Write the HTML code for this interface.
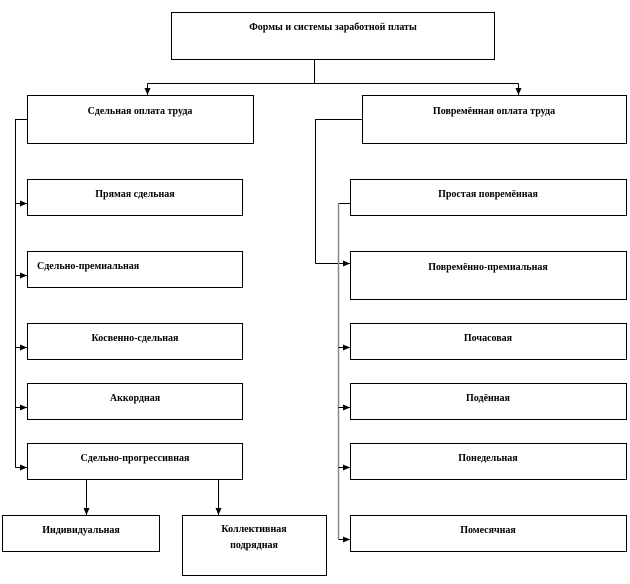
<!DOCTYPE html>
<html><head><meta charset="utf-8"><style>
body{margin:0;background:#fff}
svg text{font-family:"Liberation Serif",serif;font-weight:bold;font-size:10px;fill:#000}
</style></head><body>
<svg width="630" height="579" xmlns="http://www.w3.org/2000/svg">
<defs><marker id="a" markerWidth="8" markerHeight="8" refX="7" refY="4" orient="auto" markerUnits="userSpaceOnUse"><path d="M0,1 L7,4 L0,7z" fill="#000"/></marker></defs>
<g fill="none" stroke="#000" stroke-width="1">
<rect x="171.5" y="12.5" width="323" height="47"/>
<rect x="27.5" y="95.5" width="226" height="48"/>
<rect x="362.5" y="95.5" width="264" height="48"/>
<rect x="27.5" y="179.5" width="215" height="36"/>
<rect x="27.5" y="251.5" width="215" height="36"/>
<rect x="27.5" y="323.5" width="215" height="36"/>
<rect x="27.5" y="383.5" width="215" height="36"/>
<rect x="27.5" y="443.5" width="215" height="36"/>
<rect x="2.5" y="515.5" width="157" height="36"/>
<rect x="182.5" y="515.5" width="144" height="60"/>
<rect x="350.5" y="179.5" width="276" height="36"/>
<rect x="350.5" y="251.5" width="276" height="48"/>
<rect x="350.5" y="323.5" width="276" height="36"/>
<rect x="350.5" y="383.5" width="276" height="36"/>
<rect x="350.5" y="443.5" width="276" height="36"/>
<rect x="350.5" y="515.5" width="276" height="36"/>
<path d="M314.5 59V83.5M147.5 83.5H518.5"/>
<path d="M147.5 83.5V95" marker-end="url(#a)"/>
<path d="M518.5 83.5V95" marker-end="url(#a)"/>
<path d="M27 119.5H15.5V467.5"/>
<path d="M15.5 203.5H27" marker-end="url(#a)"/>
<path d="M15.5 275.5H27" marker-end="url(#a)"/>
<path d="M15.5 347.5H27" marker-end="url(#a)"/>
<path d="M15.5 407.5H27" marker-end="url(#a)"/>
<path d="M15.5 467.5H27" marker-end="url(#a)"/>
<path d="M86.5 479V515" marker-end="url(#a)"/>
<path d="M218.5 479V515" marker-end="url(#a)"/>
<path d="M362 119.5H315.5V263.5"/>
<path d="M315.5 263.5H350" marker-end="url(#a)"/>
<path d="M350 203.5H338.5"/>
<path d="M338.5 203V539.5" stroke="#888" stroke-width="1.5"/>
<path d="M338.5 347.5H350" marker-end="url(#a)"/>
<path d="M338.5 407.5H350" marker-end="url(#a)"/>
<path d="M338.5 467.5H350" marker-end="url(#a)"/>
<path d="M338.5 539.5H350" marker-end="url(#a)"/>
</g>
<g text-anchor="middle">
<text x="333" y="30">Формы и системы заработной платы</text>
<text x="140" y="114">Сдельная  оплата труда</text>
<text x="494" y="114">Повремённая  оплата труда</text>
<text x="135" y="197">Прямая сдельная</text>
<text x="135" y="341">Косвенно-сдельная</text>
<text x="135" y="401">Аккордная</text>
<text x="135" y="461">Сдельно-прогрессивная</text>
<text x="81" y="533">Индивидуальная</text>
<text x="254" y="532">Коллективная</text>
<text x="254" y="548">подрядная</text>
<text x="488" y="197">Простая повремённая</text>
<text x="488" y="270">Повремённо-премиальная</text>
<text x="488" y="341">Почасовая</text>
<text x="488" y="401">Подённая</text>
<text x="488" y="461">Понедельная</text>
<text x="488" y="533">Помесячная</text>
</g>
<text x="37" y="269">Сдельно-премиальная</text>
</svg>
</body></html>
